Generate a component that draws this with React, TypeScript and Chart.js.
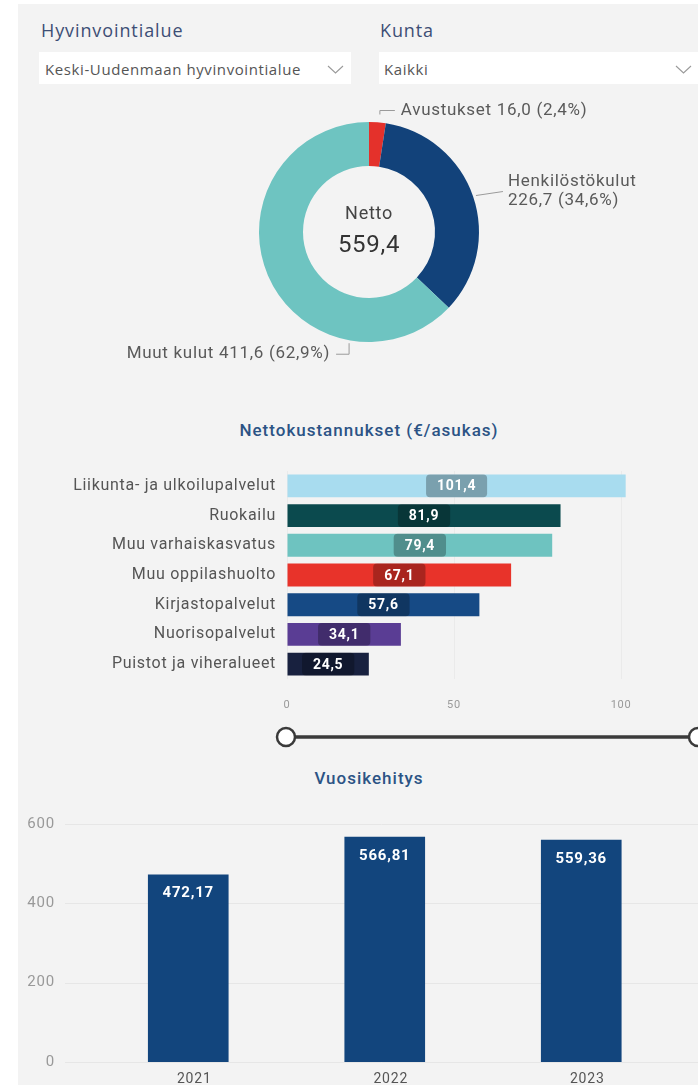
import React, { useEffect, useRef } from "react";
import { Chart, registerables } from "chart.js";

Chart.register(...registerables);

// ---------- data ----------
const donutNames = ["Avustukset", "Henkilöstökulut", "Muut kulut"];
const donutValues = [16.0, 226.7, 411.6];
const donutColors = ["#e4312b", "#12427a", "#6ec4c1"];
const nettoTotal = 559.4;

const costCategories = [
  "Liikunta- ja ulkoilupalvelut",
  "Ruokailu",
  "Muu varhaiskasvatus",
  "Muu oppilashuolto",
  "Kirjastopalvelut",
  "Nuorisopalvelut",
  "Puistot ja viheralueet",
];
const costValues = [101.4, 81.9, 79.4, 67.1, 57.6, 34.1, 24.5];
const costColors = ["#a8dcef", "#0b4a4e", "#6ec3c0", "#e8332a", "#164a85", "#5a3d94", "#18213f"];
const costTicks = [0, 50, 100];

const years = ["2021", "2022", "2023"];
const annualValues = [472.17, 566.81, 559.36];
const annualTicks = [0, 200, 400, 600];

// ---------- helpers ----------
const fi = (v: number, d: number) => v.toFixed(d).replace(".", ",");
const FONT = "Roboto, 'Noto Sans', sans-serif";

const spacingPlugin = (px: string) => ({
  id: "letterSpacing",
  beforeDraw(chart: any) {
    (chart.ctx as any).letterSpacing = px;
  },
});

// anchor position inside each arc (fraction of arc) and label side
const donutAnchor = [0.6, 0.5, 0.25];
const donutSide = ["top", "right", "bottom"];

const donutPlugin = {
  id: "donutLabels",
  afterDraw(chart: any) {
    const ctx = chart.ctx as CanvasRenderingContext2D;
    const meta = chart.getDatasetMeta(0);
    const total = donutValues.reduce((a, b) => a + b, 0);
    ctx.save();
    let cx = 0, cy = 0;
    meta.data.forEach((arc: any, i: number) => {
      const p = arc.getProps(["x", "y", "startAngle", "endAngle", "outerRadius"], true);
      cx = p.x; cy = p.y;
      const a = p.startAngle + (p.endAngle - p.startAngle) * donutAnchor[i];
      const pct = fi((donutValues[i] / total) * 100, 1);
      const val = fi(donutValues[i], 1);
      ctx.strokeStyle = "#9a9a9a";
      ctx.lineWidth = 1;
      ctx.fillStyle = "#5a5a5a";
      ctx.font = `17px ${FONT}`;
      ctx.textBaseline = "middle";
      const side = donutSide[i];
      if (side === "top") {
        const r = p.outerRadius + 8;
        const x0 = p.x + Math.cos(a) * r, y0 = p.y + Math.sin(a) * r;
        const x1 = x0, y1 = y0 - 4, x2 = x1 + 15;
        ctx.beginPath(); ctx.moveTo(x0, y0); ctx.lineTo(x1, y1); ctx.lineTo(x2, y1); ctx.stroke();
        ctx.textAlign = "left";
        ctx.fillText(`${donutNames[i]} ${val} (${pct}%)`, x2 + 6, y1);
      } else if (side === "right") {
        const r = p.outerRadius + 3;
        const x0 = p.x + Math.cos(a) * r, y0 = p.y + Math.sin(a) * r;
        const x1 = x0 + 27, y1 = y0 - 4;
        ctx.beginPath(); ctx.moveTo(x0, y0); ctx.lineTo(x1, y1); ctx.stroke();
        ctx.textAlign = "left";
        ctx.fillText(donutNames[i], x1 + 5, y1 - 9.5);
        ctx.fillText(`${val} (${pct}%)`, x1 + 5, y1 + 9.5);
      } else {
        const r = p.outerRadius + 3;
        const x0 = p.x + Math.cos(a) * r, y0 = p.y + Math.sin(a) * r;
        const x1 = x0, y1 = y0 + 11, x2 = x1 - 13;
        ctx.beginPath(); ctx.moveTo(x0, y0); ctx.lineTo(x1, y1); ctx.lineTo(x2, y1); ctx.stroke();
        ctx.textAlign = "right";
        ctx.fillText(`${donutNames[i]} ${val} (${pct}%)`, x2 - 6, y1);
      }
    });
    ctx.textAlign = "center";
    ctx.textBaseline = "middle";
    ctx.fillStyle = "#444";
    ctx.font = `18px ${FONT}`;
    ctx.fillText("Netto", cx, cy - 18);
    ctx.fillStyle = "#333";
    ctx.font = `24px ${FONT}`;
    ctx.fillText(fi(nettoTotal, 1), cx, cy + 14);
    ctx.restore();
  },
};

const hbarLabelPlugin = {
  id: "hbarLabels",
  afterDatasetsDraw(chart: any) {
    const ctx = chart.ctx as CanvasRenderingContext2D;
    const meta = chart.getDatasetMeta(0);
    ctx.save();
    ctx.font = `bold 14px ${FONT}`;
    ctx.textAlign = "center";
    ctx.textBaseline = "middle";
    meta.data.forEach((bar: any, i: number) => {
      const p = bar.getProps(["x", "y", "base", "height"], true);
      const cx = (p.x + p.base) / 2;
      const t = fi(costValues[i], 1);
      const w = ctx.measureText(t).width + 22;
      const h = p.height;
      ctx.fillStyle = "rgba(0,0,0,0.27)";
      ctx.beginPath();
      (ctx as any).roundRect(cx - w / 2, p.y - h / 2, w, h, 4);
      ctx.fill();
      ctx.fillStyle = "#ffffff";
      ctx.fillText(t, cx, p.y + 1);
    });
    ctx.restore();
  },
};

const annualGridPlugin = {
  id: "annualGrid",
  beforeDatasetsDraw(chart: any) {
    const ys = chart.scales.y;
    const ctx = chart.ctx as CanvasRenderingContext2D;
    ctx.save();
    ctx.strokeStyle = "#e6e6e6";
    ctx.lineWidth = 1;
    annualTicks.forEach((v) => {
      const py = Math.round(ys.getPixelForValue(v)) + 0.5;
      ctx.beginPath();
      ctx.moveTo(chart.chartArea.left - 25, py);
      ctx.lineTo(chart.width, py);
      ctx.stroke();
    });
    ctx.restore();
  },
};

const vbarLabelPlugin = {
  id: "vbarLabels",
  afterDatasetsDraw(chart: any) {
    const ctx = chart.ctx as CanvasRenderingContext2D;
    const meta = chart.getDatasetMeta(0);
    ctx.save();
    ctx.font = `bold 15px ${FONT}`;
    ctx.textAlign = "center";
    ctx.textBaseline = "middle";
    ctx.fillStyle = "#ffffff";
    meta.data.forEach((bar: any, i: number) => {
      const p = bar.getProps(["x", "y"], true);
      ctx.fillText(fi(annualValues[i], 2), p.x, p.y + 19);
    });
    ctx.restore();
  },
};

function DonutChart() {
  const ref = useRef<HTMLCanvasElement>(null);
  useEffect(() => {
    const c = new Chart(ref.current!, {
      type: "doughnut",
      data: {
        labels: donutNames,
        datasets: [{ data: donutValues, backgroundColor: donutColors, borderWidth: 0 }],
      },
      options: {
        animation: false,
        responsive: false,
        devicePixelRatio: 1,
        cutout: "60%",
        layout: { padding: { left: 159, right: 181, top: 32, bottom: 38 } },
        plugins: { legend: { display: false }, tooltip: { enabled: false } },
      },
      plugins: [spacingPlugin("0.7px"), donutPlugin],
    });
    return () => c.destroy();
  }, []);
  return <canvas ref={ref} width={560} height={290} style={{ position: "absolute", left: 100, top: 90 }} />;
}

function CostChart() {
  const ref = useRef<HTMLCanvasElement>(null);
  useEffect(() => {
    const c = new Chart(ref.current!, {
      type: "bar",
      data: {
        labels: costCategories,
        datasets: [{ data: costValues, backgroundColor: costColors, barPercentage: 0.77, categoryPercentage: 1 }],
      },
      options: {
        indexAxis: "y",
        animation: false,
        responsive: false,
        devicePixelRatio: 1,
        layout: { padding: { left: 0, right: 43.6, top: 21, bottom: 0 } },
        plugins: { legend: { display: false }, tooltip: { enabled: false } },
        scales: {
          y: {
            grid: { display: false, drawTicks: false },
            border: { display: false },
            ticks: { color: "#555", font: { family: FONT, size: 16 }, padding: 11 },
            afterFit: (s: any) => { s.width = 267; s.paddingTop = 0; s.paddingBottom = 0; },
          },
          x: {
            min: costTicks[0],
            max: 110,
            grid: { color: "rgba(0,0,0,0.035)", drawTicks: false },
            border: { display: false },
            afterBuildTicks: (s: any) => { s.ticks = costTicks.map((v) => ({ value: v })); },
            ticks: { color: "#999", font: { family: FONT, size: 11 }, padding: 20 },
            afterFit: (s: any) => { s.height = 46; },
          },
        },
      },
      plugins: [spacingPlugin("0.7px"), hbarLabelPlugin],
    });
    return () => c.destroy();
  }, []);
  return <canvas ref={ref} width={678} height={275} style={{ position: "absolute", left: 20, top: 450 }} />;
}

function AnnualChart() {
  const ref = useRef<HTMLCanvasElement>(null);
  useEffect(() => {
    const c = new Chart(ref.current!, {
      type: "bar",
      data: {
        labels: years,
        datasets: [{ data: annualValues, backgroundColor: "#12457d", barThickness: 80 }],
      },
      options: {
        animation: false,
        responsive: false,
        devicePixelRatio: 1,
        layout: { padding: { left: 0, right: 18.5, top: 24, bottom: 0 } },
        plugins: { legend: { display: false }, tooltip: { enabled: false } },
        scales: {
          x: {
            grid: { display: false, drawTicks: false },
            border: { display: false },
            ticks: { color: "#555", font: { family: FONT, size: 14 }, padding: 9, labelOffset: 6 },
            afterFit: (s: any) => { s.height = 23; s.paddingLeft = 0; s.paddingRight = 0; },
          },
          y: {
            min: 0,
            max: 600,
            grid: { display: false, drawTicks: false },
            border: { display: false },
            afterBuildTicks: (s: any) => { s.ticks = annualTicks.map((v) => ({ value: v })); },
            ticks: { color: "#999", font: { family: FONT, size: 15 }, padding: 35 },
            afterFit: (s: any) => { s.width = 70; s.paddingTop = 0; s.paddingBottom = 0; },
          },
        },
      },
      plugins: [spacingPlugin("0.8px"), annualGridPlugin, vbarLabelPlugin],
    });
    return () => c.destroy();
  }, []);
  return <canvas ref={ref} width={678} height={285} style={{ position: "absolute", left: 20, top: 800 }} />;
}

const Chevron = ({ x }: { x: number }) => (
  <svg width={18} height={10} style={{ position: "absolute", left: x, top: 65 }}>
    <polyline points="1,1 8.5,8 16,1" fill="none" stroke="#9a9a9a" strokeWidth={1.1} />
  </svg>
);

export default function App() {
  const slicerTitle: React.CSSProperties = {
    position: "absolute", top: 19, fontFamily: "'Open Sans', 'Noto Sans', sans-serif",
    fontSize: 18, letterSpacing: "0.9px", color: "#3d4e75", lineHeight: "22px", whiteSpace: "nowrap",
  };
  const boxText: React.CSSProperties = {
    position: "absolute", fontFamily: "'Open Sans', 'Noto Sans', sans-serif",
    fontSize: 15, letterSpacing: "0.6px", color: "#555", lineHeight: "32px", whiteSpace: "nowrap",
  };
  const chartTitle: React.CSSProperties = {
    position: "absolute", left: 0, width: 738, textAlign: "center", fontFamily: FONT,
    fontSize: 17, letterSpacing: "1px", fontWeight: 500, color: "#2c5385", lineHeight: "20px",
  };
  return (
    <div style={{ position: "absolute", left: 0, top: 0, width: 698, height: 1085, background: "#fff", overflow: "hidden" }}>
      <div style={{ position: "absolute", left: 18, top: 4, width: 680, height: 1081, background: "#f3f3f3" }} />
      <div style={{ ...slicerTitle, left: 41 }}>Hyvinvointialue</div>
      <div style={{ ...slicerTitle, left: 380 }}>Kunta</div>
      <div style={{ position: "absolute", left: 39, top: 52, width: 312, height: 32, background: "#fff" }} />
      <div style={{ position: "absolute", left: 379, top: 52, width: 330, height: 32, background: "#fff" }} />
      <div style={{ ...boxText, left: 45, top: 53 }}>Keski-Uudenmaan hyvinvointialue</div>
      <div style={{ ...boxText, left: 384, top: 53 }}>Kaikki</div>
      <Chevron x={327} />
      <Chevron x={675} />
      <DonutChart />
      <div style={{ ...chartTitle, top: 420 }}>Nettokustannukset (€/asukas)</div>
      <CostChart />
      <svg width={698} height={30} style={{ position: "absolute", left: 0, top: 722 }}>
        <line x1={286} y1={15} x2={697} y2={15} stroke="#3a3a3a" strokeWidth={3.5} />
        <circle cx={286} cy={15} r={9} fill="#fff" stroke="#3a3a3a" strokeWidth={2.5} />
        <circle cx={698} cy={15} r={9} fill="#fff" stroke="#3a3a3a" strokeWidth={2.5} />
      </svg>
      <div style={{ ...chartTitle, top: 768 }}>Vuosikehitys</div>
      <AnnualChart />
    </div>
  );
}
